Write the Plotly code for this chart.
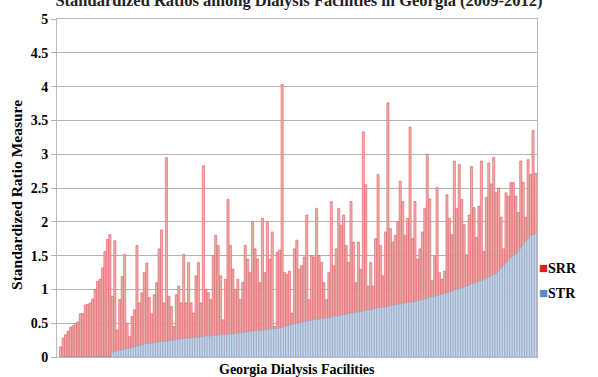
import plotly.graph_objects as go

# facilities sorted by STR (ascending)
srr = [
    0.15, 0.28, 0.33, 0.38, 0.44, 0.46, 0.5, 0.52, 0.64, 0.64, 0.77, 0.78, 0.8, 0.86, 1.0, 1.12, 1.15, 1.32, 1.56, 1.74, 1.81,
    0.9, 1.72, 0.4, 0.85, 1.19, 1.52, 0.5, 0.3, 0.6, 0.7, 1.65, 0.8, 0.95, 1.25, 1.39, 0.88, 0.64, 0.92, 1.1, 1.6, 1.88, 0.8, 2.95,
    0.9, 0.75, 0.45, 0.92, 1.05, 0.8, 1.52, 0.8, 1.4, 0.8, 0.65, 1.2, 1.4, 0.8, 2.83,
    1.0, 0.95, 0.85, 1.5, 1.8, 1.65, 1.2, 0.55, 1.15, 2.33,
    1.65, 1.3, 1.0, 1.15, 0.85, 1.1, 1.65, 1.45, 1.25, 2.0, 1.6, 1.45, 1.1, 2.05, 1.25, 2.0, 1.45, 1.85, 0.45, 1.55, 1.58, 4.03,
    1.25, 1.22, 1.27, 0.65, 1.6, 1.73, 1.3, 1.35, 1.48, 2.1, 0.85, 1.5, 1.48, 2.2, 1.5, 1.4, 1.1, 0.85, 1.25, 2.3,
    1.35, 1.6, 2.2, 1.95, 2.1, 1.65, 1.4, 2.3, 1.7, 1.1, 1.7, 1.3, 3.33,
    2.55, 1.05, 1.4, 1.05, 1.75, 2.7, 1.65, 1.2, 1.85, 3.76,
    1.9, 1.7, 1.8, 2.0, 2.6, 2.3, 1.8, 2.05, 3.4,
    1.75, 2.3, 1.45, 1.6, 1.85, 2.2, 3.0,
    2.34, 1.13, 1.49, 2.51, 1.25, 1.15, 1.27, 2.4, 2.05, 1.81, 2.9, 2.2, 2.85, 2.33, 1.96, 1.51, 2.1, 2.82, 2.21, 1.77,
    2.23, 2.9, 1.56, 2.36, 2.87, 2.56, 2.95, 2.43, 2.5, 2.07, 1.6, 2.43, 2.38, 2.58, 2.58, 2.38, 2.14, 2.9, 2.58, 2.07,
    2.92, 2.7, 3.35, 2.72,
]

str_vals = [0.0] * 21 + [
    0.07, 0.08, 0.09, 0.10, 0.11, 0.12, 0.12, 0.13, 0.14, 0.15,
    0.16, 0.17, 0.18, 0.19, 0.20, 0.20, 0.21, 0.21, 0.22, 0.22,
    0.23, 0.23, 0.24, 0.24, 0.25, 0.25, 0.26, 0.26, 0.27, 0.27,
    0.28, 0.28, 0.28, 0.29, 0.29, 0.29, 0.30, 0.30, 0.31, 0.31,
    0.31, 0.32, 0.32, 0.32, 0.33, 0.33, 0.33, 0.34, 0.34, 0.34,
    0.35, 0.35, 0.36, 0.36, 0.37, 0.37, 0.38, 0.38, 0.39, 0.39,
    0.39, 0.40, 0.40, 0.41, 0.41, 0.42, 0.42, 0.42, 0.43, 0.44,
    0.45, 0.46, 0.47, 0.48, 0.49, 0.50, 0.50, 0.51, 0.52, 0.53,
    0.54, 0.54, 0.55, 0.56, 0.56, 0.57, 0.57, 0.58, 0.58, 0.59,
    0.60, 0.61, 0.61, 0.62, 0.63, 0.63, 0.64, 0.65, 0.65, 0.66,
    0.67, 0.67, 0.68, 0.69, 0.70, 0.70, 0.71, 0.72, 0.73, 0.73,
    0.74, 0.74, 0.75, 0.76, 0.76, 0.77, 0.78, 0.78, 0.79, 0.80,
    0.80, 0.81, 0.81, 0.82, 0.83, 0.84, 0.85, 0.86, 0.87, 0.88,
    0.89, 0.90, 0.91, 0.92, 0.93, 0.94, 0.95, 0.96, 0.97, 0.99,
    1.00, 1.01, 1.02, 1.04, 1.05, 1.06, 1.08, 1.09, 1.10, 1.12,
    1.13, 1.15, 1.16, 1.18, 1.20, 1.22, 1.23, 1.27, 1.31, 1.35,
    1.39, 1.43, 1.47, 1.50, 1.52, 1.56, 1.61, 1.66, 1.71, 1.75,
    1.79, 1.81, 1.82,
]

facilities = list(range(len(srr)))
y_ticks = [0, 0.5, 1, 1.5, 2, 2.5, 3, 3.5, 4, 4.5, 5]
series_names = ["SRR", "STR"]
legend_colors = ["#e0201b", "#5b8bc4"]
serif = "Liberation Serif"

fig = go.Figure()
fig.add_trace(go.Bar(x=facilities, y=srr, name="SRR", showlegend=False,
                     marker=dict(color="#eeaeb0", line=dict(color="#dc4848", width=0.5))))
fig.add_trace(go.Bar(x=facilities, y=str_vals, name="STR", showlegend=False,
                     marker=dict(color="#c6daea", line=dict(color="#86a5cc", width=0.5))))

fig.update_layout(
    width=598, height=377,
    margin=dict(l=57, r=61, t=15, b=20),
    barmode="overlay", bargap=0.12,
    plot_bgcolor="white", paper_bgcolor="white",
    showlegend=False,
    font=dict(family=serif, size=14, color="black"),
    title=dict(text="<b>Standardized Ratios among Dialysis Facilities in Georgia (2009-2012)</b>",
               x=0.5, xanchor="center", y=1.0, yref="container", yanchor="middle",
               font=dict(family=serif, size=16.5, color="#222")),
)
fig.update_xaxes(range=[-1.5, len(srr) - 0.4], showticklabels=False, showgrid=False,
                 showline=True, linecolor="#b8bcc0", mirror=True, ticks="", zeroline=False)
fig.update_yaxes(range=[0, 5], tickvals=y_ticks, ticktext=["<b>%g</b>" % v for v in y_ticks],
                 showgrid=True, gridcolor="#b4b4b4", gridwidth=1,
                 showline=True, linecolor="#b8bcc0", mirror=True,
                 ticks="outside", ticklen=5, tickcolor="#b4b4b4", zeroline=False,
                 tickfont=dict(family=serif, size=14, color="black"))

# axis titles
fig.add_annotation(text="<b>Standardized Ratio Measure</b>", textangle=-90,
                   x=(17 - 57) / 480, y=(357 - 193) / 342, xref="paper", yref="paper",
                   xanchor="center", yanchor="middle", showarrow=False,
                   font=dict(family=serif, size=15.5, color="black"))
fig.add_annotation(text="<b>Georgia Dialysis Facilities</b>",
                   x=0.5, y=-0.038, xref="paper", yref="paper", yanchor="middle", showarrow=False,
                   font=dict(family=serif, size=14, color="black"))

# legend (square marker + label)
for k, (nm, col) in enumerate(zip(series_names, legend_colors)):
    fig.add_annotation(text='<span style="color:%s;font-size:15px">■</span><b>%s</b>' % (col, nm),
                       x=(537 - 57) / 480, y=(357 - 267 - 25 * k) / 342,
                       xref="paper", yref="paper", xanchor="left", yanchor="middle",
                       showarrow=False, font=dict(family=serif, size=14, color="black"))

fig.write_html("out.html", config={"displayModeBar": False},
               post_script="document.body.style.margin='0px';")
